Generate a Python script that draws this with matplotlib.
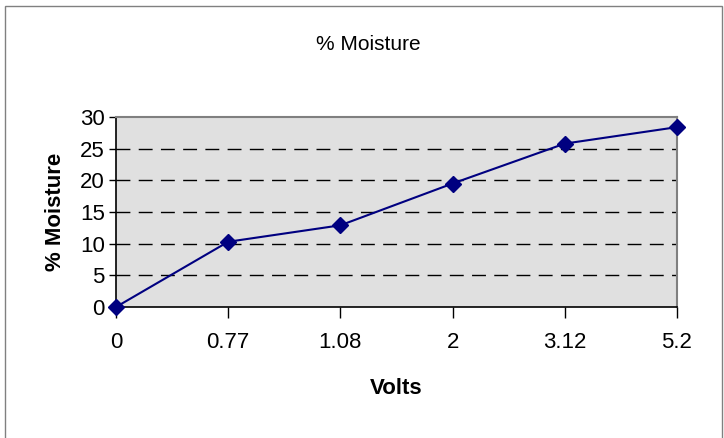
#!/usr/bin/env python3
"""Moisture sensor calibration: % moisture against sensor volts."""

import matplotlib
matplotlib.use("Agg")
import matplotlib.pyplot as plt
from matplotlib.patches import Rectangle
import numpy as np

volts_labels = ["0", "0.77", "1.08", "2", "3.12", "5.2"]
moisture_pct = [0.0, 10.3, 12.9, 19.5, 25.8, 28.4]

plt.rcParams["font.family"] = ["Liberation Sans", "DejaVu Sans"]
NARROW = ["Liberation Sans Narrow", "Liberation Sans", "DejaVu Sans"]

fig = plt.figure(figsize=(7.24, 4.38), dpi=100)
fig.patch.set_facecolor("white")

# chart-area frame
fig.patches.append(
    Rectangle((5 / 724, -0.05), 717 / 724, 1 - 6 / 438 + 0.05,
              transform=fig.transFigure, fill=False, edgecolor="#808080", linewidth=1.0)
)

ax = fig.add_axes([116 / 724, 1 - 307 / 438, 561 / 724, 190 / 438])
ax.set_facecolor("#E0E0E0")

x = np.arange(len(volts_labels))
ax.plot(x, moisture_pct, color="#000080", linewidth=1.5, marker="D",
        markersize=8, markerfacecolor="#000080", markeredgecolor="#000080",
        clip_on=False, zorder=3)

ax.set_xlim(0, len(volts_labels) - 1)
ax.set_ylim(0, 30)
ax.set_yticks(range(0, 31, 5))
ax.set_xticks(x)
ax.set_xticklabels(volts_labels)

for y in range(5, 30, 5):
    ax.axhline(y, color="black", linewidth=1.0, dashes=(10, 6), zorder=1)

for side in ("top", "right"):
    ax.spines[side].set_color("#808080")
    ax.spines[side].set_linewidth(1.5)
for side in ("left", "bottom"):
    ax.spines[side].set_color("black")
    ax.spines[side].set_linewidth(1.2)

ax.tick_params(axis="x", direction="out", length=8, width=1.0, pad=10)
ax.tick_params(axis="y", direction="out", length=5, width=1.0, pad=3)
for lbl in ax.get_xticklabels() + ax.get_yticklabels():
    lbl.set_family(NARROW)
    lbl.set_fontsize(16)

ax.set_xlabel("Volts", fontsize=16, fontweight="bold", family=NARROW, labelpad=18)
ax.set_ylabel("% Moisture", fontsize=16, fontweight="bold", labelpad=10)

fig.text(368 / 724, 1 - 44 / 438, "% Moisture", ha="center", va="center",
         fontsize=15, family=NARROW)

fig.savefig("out.png", dpi=100)
